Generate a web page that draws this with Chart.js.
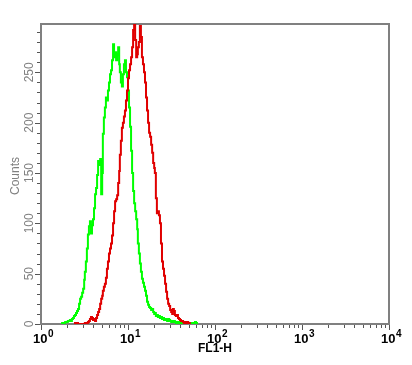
<!DOCTYPE html>
<html>
<head>
<meta charset="utf-8">
<script src="https://cdn.jsdelivr.net/npm/chart.js@4/dist/chart.umd.min.js"></script>
<style>
  html, body { margin: 0; padding: 0; background: #fff; }
  #wrap { width: 412px; height: 365px; }
</style>
</head>
<body>
<div id="wrap"><canvas id="chart"></canvas></div>
<script>
// FL1-H channel numbers (1024 channels over 4 decades)
const channels = [
  56, 59, 62, 65, 68, 71, 74, 77, 79, 82,
  85, 88, 91, 94, 97, 100, 103, 106, 109, 112,
  115, 118, 121, 124, 127, 129, 132, 135, 138, 141,
  144, 147, 150, 153, 156, 159, 162, 165, 168, 171,
  174, 177, 180, 182, 185, 188, 191, 194, 197, 200,
  203, 206, 209, 212, 215, 218, 221, 224, 227, 230,
  232, 235, 238, 241, 244, 247, 250, 253, 256, 259,
  262, 265, 268, 271, 274, 277, 280, 283, 285, 288,
  291, 294, 297, 300, 303, 306, 309, 312, 315, 318,
  321, 324, 327, 330, 333, 335, 338, 341, 344, 347,
  350, 353, 356, 359, 362, 365, 368, 371, 374, 377,
  380, 383, 386, 388, 391, 394, 397, 400, 403, 406,
  409, 412, 415, 418, 421, 424, 427, 430, 433, 436,
  438, 441, 444, 447, 450, 453, 456, 459, 462, 465,
  468
];

const greenCounts = [
  null, 0, 1, 1, 1, 2, 2, 2, 3, 3,
  4, 3, 5, 6, 8, 9, 11, 13, 15, 20,
  25, 27, 31, 35, 44, 52, 62, 75, 89, 97,
  102, 90, 98, 104, 115, 129, 135, 148, 162, 158,
  164, 129, 150, 189, 205, 215, 225, 222, 232, 240,
  248, 252, 262, 278, 265, 270, 262, 268, 275, 258,
  250, 240, 236, 248, 258, 262, 250, 245, 232, 215,
  196, 172, 150, 132, 120, 112, 104, 94, 80, 70,
  60, 52, 45, 41, 37, 33, 28, 22, 19, 17,
  16, 14, 15, 12, 10, 11, 8, 9, 7, 8,
  6, 7, 5, 6, 4, 5, 4, 3, 5, 4,
  3, 2, 3, 2, 3, 2, 1, 2, 1, 2,
  1, 1, 0, 1, 1, 0, 1, 0, 1, 0,
  0, 1, 0, 0, 1, 2, 1, 0, null, null,
  null
];

const redCounts = [
  null, null, null, null, null, null, null, null, null, null,
  null, null, null, null, 0, 1, 0, 1, 0, 0,
  0, 0, 0, 0, 0, 1, 0, 1, 2, 3,
  5, 7, 6, 4, 5, 3, 6, 9, 12, 15,
  20, 25, 28, 33, 37, 40, 46, 55, 62, 70,
  75, 80, 88, 100, 112, 122, 124, 128, 140, 152,
  168, 182, 195, 200, 206, 212, 222, 232, 244, 252,
  258, 265, 275, 292, 298, 282, 265, 268, 275, 280,
  296, 285, 265, 258, 250, 240, 225, 212, 200, 190,
  186, 178, 170, 160, 155, 150, 125, 110, 112, 108,
  100, 80, 62, 55, 48, 40, 32, 25, 20, 18,
  14, 12, 10, 15, 13, 9, 8, 9, 6, 5,
  4, 3, 3, 2, 1, 2, 1, 2, 1, 1,
  0, null, null, null, null, null, null, null, null, null,
  null
];

const decadeExponents = ["0", "1", "2", "3", "4"];
const countTicks = [0, 50, 100, 150, 200, 250];
const xTitle = "FL1-H";
const yTitle = "Counts";

const CH_PER_DECADE = 256;
const X_MAX = 1024;
const Y_MAX = 298;

const axisDecor = {
    id: "axisDecor",
    beforeDatasetsDraw(chart) {
        const { ctx, chartArea: a, scales: { x, y } } = chart;
        ctx.save();
        ctx.strokeStyle = "#808080";
        ctx.lineWidth = 2;
        ctx.strokeRect(a.left, a.top, a.right - a.left, a.bottom - a.top);

        ctx.lineWidth = 1;
        ctx.strokeStyle = "#555";
        // count ticks every 10, longer every 50
        for (let v = 0; v <= Y_MAX; v += 10) {
            const py = Math.round(y.getPixelForValue(v)) + 0.5;
            const len = v % 50 === 0 ? 5 : 3;
            ctx.beginPath();
            ctx.moveTo(a.left - 1 - len, py);
            ctx.lineTo(a.left - 1, py);
            ctx.stroke();
        }
        // log ticks: decades and 2..9 inside each decade
        for (let d = 0; d < decadeExponents.length; d++) {
            for (let k = 1; k <= 9; k++) {
                if (d === decadeExponents.length - 1 && k > 1) break;
                const ch = d * CH_PER_DECADE + CH_PER_DECADE * Math.log10(k);
                const px = Math.round(x.getPixelForValue(ch)) + 0.5;
                const len = k === 1 ? 5 : 3;
                ctx.beginPath();
                ctx.moveTo(px, a.bottom + 1);
                ctx.lineTo(px, a.bottom + 1 + len);
                ctx.stroke();
            }
        }
        ctx.restore();
    },
    afterDraw(chart) {
        const { ctx, chartArea: a, scales: { x, y } } = chart;
        ctx.save();
        // count labels, rotated
        ctx.fillStyle = "#808080";
        ctx.font = "12px 'Liberation Sans', Arial, sans-serif";
        ctx.textAlign = "center";
        ctx.textBaseline = "middle";
        countTicks.forEach((v) => {
            ctx.save();
            ctx.translate(30, y.getPixelForValue(v));
            ctx.rotate(-Math.PI / 2);
            ctx.fillText(String(v), 0, 0);
            ctx.restore();
        });
        ctx.save();
        ctx.translate(16, (a.top + a.bottom) / 2 + 2);
        ctx.rotate(-Math.PI / 2);
        ctx.fillText(yTitle, 0, 0);
        ctx.restore();

        // decade labels 10^n
        ctx.fillStyle = "#000";
        ctx.textAlign = "left";
        ctx.textBaseline = "alphabetic";
        const baseFont = "bold 13px 'Liberation Sans', Arial, sans-serif";
        const expFont = "bold 10px 'Liberation Sans', Arial, sans-serif";
        decadeExponents.forEach((e, i) => {
            const px = x.getPixelForValue(i * CH_PER_DECADE);
            ctx.font = baseFont;
            const wb = ctx.measureText("10").width;
            ctx.font = expFont;
            const we = ctx.measureText(e).width;
            const left = px - (wb + we) / 2 + 2;
            ctx.font = baseFont;
            ctx.fillText("10", left, 343);
            ctx.font = expFont;
            ctx.fillText(e, left + wb + 0.5, 337);
        });

        ctx.font = "bold 12px 'Liberation Sans', Arial, sans-serif";
        ctx.textAlign = "center";
        ctx.textBaseline = "middle";
        ctx.fillText(xTitle, (x.getPixelForValue(CH_PER_DECADE * 2)), 349);
        ctx.restore();
    }
};

new Chart(document.getElementById("chart"), {
    type: "line",
    data: {
        labels: channels,
        datasets: [
            {
                label: "Stained",
                data: channels.map((ch, i) => ({ x: ch, y: redCounts[i] })),
                borderColor: "#e00000",
                borderWidth: 2,
                pointRadius: 0,
                stepped: true,
                spanGaps: false,
                order: 0
            },
            {
                label: "Control",
                data: channels.map((ch, i) => ({ x: ch, y: greenCounts[i] })),
                borderColor: "#00ff00",
                borderWidth: 2,
                pointRadius: 0,
                stepped: true,
                spanGaps: false,
                order: 1
            }
        ]
    },
    options: {
        responsive: true,
        maintainAspectRatio: false,
        animation: false,
        layout: {
            padding: { left: 41, right: 23, top: 24, bottom: 41 }
        },
        plugins: {
            legend: { display: false },
            tooltip: { enabled: false }
        },
        scales: {
            x: {
                type: "linear",
                display: false,
                min: 0,
                max: X_MAX
            },
            y: {
                type: "linear",
                display: false,
                min: 0,
                max: Y_MAX
            }
        }
    },
    plugins: [axisDecor]
});
</script>
</body>
</html>
